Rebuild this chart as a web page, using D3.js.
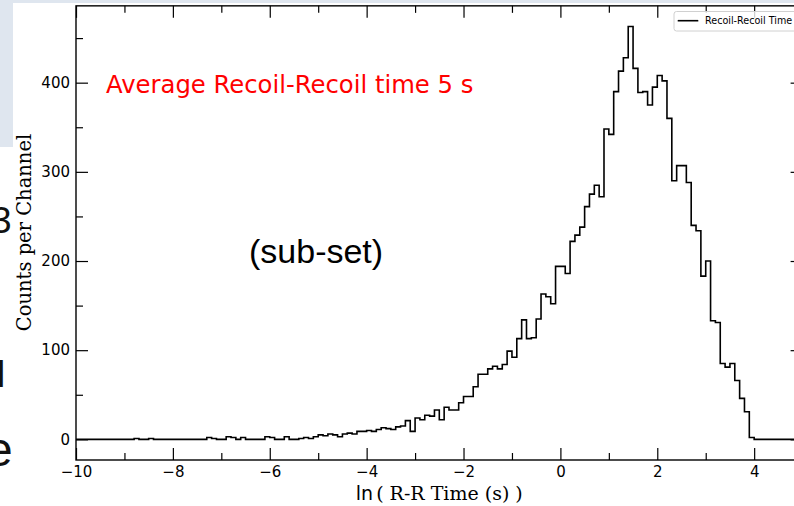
<!DOCTYPE html>
<html>
<head>
<meta charset="utf-8">
<script src="https://cdn.jsdelivr.net/npm/d3@7/dist/d3.min.js"></script>
<style>
  html, body { margin: 0; padding: 0; background: #ffffff; }
  svg { display: block; }
</style>
</head>
<body>
<svg id="chart" width="794" height="506"></svg>
<script>
// ---- data ----
const binStart = -10;      // left edge of first channel
const binWidth = 0.1;      // channel width in ln(s)
// counts per channel, one row per unit of ln(t)
const counts = [
  0,0,0,0,0,0,0,0,0,0,            // -10.0 .. -9.1
  0,0,1,0,0,1,0,0,0,0,            // -9.0 .. -8.1
  0,0,0,0,0,0,0,2,1,0,            // -8.0 .. -7.1
  0,3,2,0,2,0,0,0,0,3,            // -7.0 .. -6.1
  2,0,0,3,0,0,1,2,1,3,            // -6.0 .. -5.1
  5,4,6,5,3,6,7,6,9,9,            // -5.0 .. -4.1
  10,9,11,13,12,11,14,15,21,9,    // -4.0 .. -3.1
  24,22,27,26,33,22,36,33,33,41,  // -3.0 .. -2.1
  48,48,59,73,73,79,82,79,84,99,  // -2.0 .. -1.1
  92,113,134,113,114,135,163,160,152,194,   // -1.0 .. -0.1
  194,186,222,229,238,261,275,285,272,348,  // 0.0 .. 0.9
  342,390,413,428,463,416,389,390,375,395,  // 1.0 .. 1.9
  408,402,360,290,307,307,288,240,234,183,  // 2.0 .. 2.9
  200,133,131,85,81,85,66,46,31,2,          // 3.0 .. 3.9
  0,0,0,0,0,0,0,0,0,0             // 4.0 .. 4.9
];
const xMajorTicks = [-10, -8, -6, -4, -2, 0, 2, 4];
const xMinorTicks = [-9, -7, -5, -3, -1, 1, 3];
const yMajorTicks = [0, 100, 200, 300, 400];
const yMinorTicks = [50, 150, 250, 350, 450];
const xDomain = [-10, 5];
const yDomain = [-23.15, 486.15];
const seriesName = "Recoil-Recoil Time";
const noteText = "Average Recoil-Recoil time 5 s";
const subsetText = "(sub-set)";
const yLabel = "Counts per Channel";
const xLabelFn = "ln";
const xLabelRest = "( R-R Time (s) )";

// ---- layout ----
const svg = d3.select("#chart");
const L = 76, R = 802.6, T = 5.85, B = 460;
const x = d3.scaleLinear().domain(xDomain).range([L, R]);
const y = d3.scaleLinear().domain(yDomain).range([B, T]);

// slide background fragments (partly hidden behind the chart, as in the source)
svg.append("rect").attr("x", 0).attr("y", 0).attr("width", 794).attr("height", 3).attr("fill", "#dfe6ef");
svg.append("rect").attr("x", 0).attr("y", 0).attr("width", 13).attr("height", 147).attr("fill", "#dfe6ef");
const frag = svg.append("g").attr("font-family", "Liberation Sans, Arial, sans-serif").attr("fill", "#111");
frag.append("text").attr("x", -9).attr("y", 233).attr("font-size", 37).text("3");
frag.append("text").attr("x", -3).attr("y", 387).attr("font-size", 37).text("l");
frag.append("text").attr("x", -14).attr("y", 466).attr("font-size", 48).text("e");

// plot background
svg.append("rect").attr("x", L).attr("y", T).attr("width", R - L).attr("height", B - T).attr("fill", "#fff");

// histogram (step outline)
const pts = [];
pts.push([binStart, 0]);
counts.forEach((c, i) => {
  const x0 = binStart + i * binWidth;
  pts.push([x0, c]);
  pts.push([x0 + binWidth, c]);
});
pts.push([binStart + counts.length * binWidth, 0]);
const line = d3.line().x(d => x(d[0])).y(d => y(d[1]));
svg.append("path").datum(pts).attr("d", line)
  .attr("fill", "none").attr("stroke", "#000").attr("stroke-width", 1.6)
  .attr("stroke-linejoin", "miter");

// axes
const fontTick = "DejaVu Sans, sans-serif";
function styleAxis(g) {
  g.select(".domain").remove();
  g.selectAll(".tick line").attr("stroke", "#000").attr("stroke-width", 1.2);
  g.selectAll(".tick text").attr("font-family", fontTick).attr("font-size", 15).attr("fill", "#000");
}
svg.append("g").attr("transform", `translate(0,${B})`)
  .call(d3.axisBottom(x).tickValues(xMajorTicks).tickSize(-12).tickPadding(6.5)
    .tickFormat(d => (d < 0 ? "\u2212" + Math.abs(d) : String(d))))
  .call(styleAxis);
svg.append("g").attr("transform", `translate(0,${B})`)
  .call(d3.axisBottom(x).tickValues(xMinorTicks).tickSize(-7).tickFormat(""))
  .call(styleAxis);
svg.append("g").attr("transform", `translate(0,${T})`)
  .call(d3.axisTop(x).tickValues(xMajorTicks).tickSize(-12).tickFormat(""))
  .call(styleAxis);
svg.append("g").attr("transform", `translate(0,${T})`)
  .call(d3.axisTop(x).tickValues(xMinorTicks).tickSize(-7).tickFormat(""))
  .call(styleAxis);
svg.append("g").attr("transform", `translate(${L},0)`)
  .call(d3.axisLeft(y).tickValues(yMajorTicks).tickSize(-12).tickPadding(6))
  .call(styleAxis);
svg.append("g").attr("transform", `translate(${L},0)`)
  .call(d3.axisLeft(y).tickValues(yMinorTicks).tickSize(-7).tickFormat(""))
  .call(styleAxis);
svg.append("g").attr("transform", `translate(${R},0)`)
  .call(d3.axisRight(y).tickValues(yMajorTicks).tickSize(-12).tickFormat(""))
  .call(styleAxis);
svg.append("g").attr("transform", `translate(${R},0)`)
  .call(d3.axisRight(y).tickValues(yMinorTicks).tickSize(-7).tickFormat(""))
  .call(styleAxis);

// frame
svg.append("rect").attr("x", L).attr("y", T).attr("width", R - L).attr("height", B - T)
  .attr("fill", "none").attr("stroke", "#000").attr("stroke-width", 1.4);

// legend
const lg = svg.append("g");
lg.append("rect").attr("x", 674).attr("y", 11.5).attr("width", 124).attr("height", 19.5)
  .attr("rx", 2.5).attr("fill", "#fff").attr("fill-opacity", 0.8).attr("stroke", "#d0d0d0").attr("stroke-width", 1);
lg.append("line").attr("x1", 677.7).attr("x2", 698.3).attr("y1", 20.7).attr("y2", 20.7)
  .attr("stroke", "#000").attr("stroke-width", 1.6);
lg.append("text").attr("x", 705).attr("y", 24.2).attr("font-family", fontTick).attr("font-size", 9.6)
  .attr("fill", "#000").text(seriesName);

// annotations
svg.append("text").attr("x", 106).attr("y", 93).attr("font-family", "DejaVu Sans, sans-serif")
  .attr("font-size", 24.3).attr("fill", "#ff0000").text(noteText);
svg.append("text").attr("x", 249).attr("y", 263).attr("font-family", "Liberation Sans, Arial, sans-serif")
  .attr("font-size", 34).attr("fill", "#000").text(subsetText);

// axis labels
svg.append("text").attr("transform", `translate(31,${232.5}) rotate(-90)`).attr("text-anchor", "middle")
  .attr("font-family", "DejaVu Serif, serif").attr("font-size", 19.5).attr("fill", "#000").text(yLabel);
const xl = svg.append("text").attr("x", (L + R) / 2).attr("y", 500).attr("text-anchor", "middle")
  .attr("font-family", "DejaVu Serif, serif").attr("font-size", 19).attr("fill", "#000");
xl.append("tspan").attr("font-family", "DejaVu Sans, sans-serif").text(xLabelFn);
xl.append("tspan").attr("dx", 3).text(xLabelRest);
</script>
</body>
</html>
